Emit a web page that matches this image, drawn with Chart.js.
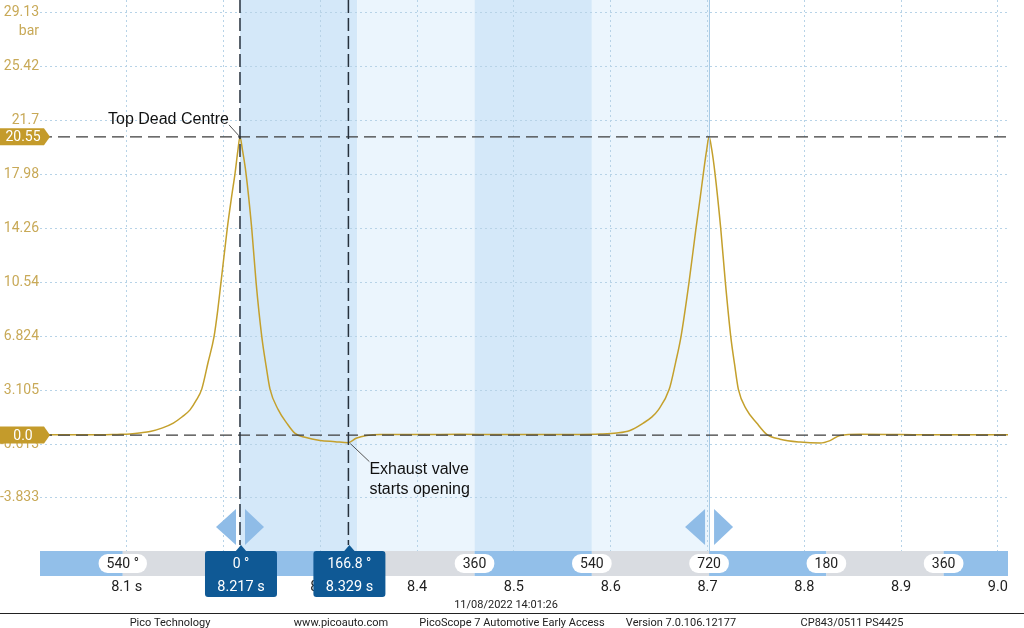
<!DOCTYPE html>
<html>
<head>
<meta charset="utf-8">
<script src="https://cdn.jsdelivr.net/npm/chart.js@4/dist/chart.umd.min.js"></script>
<style>
  html, body { margin: 0; padding: 0; background: #fff; }
  canvas { display: block; }
</style>
</head>
<body>
<canvas id="scope" width="1024" height="628"></canvas>
<script>
// cylinder pressure trace (time in s, pressure in bar)
const timeValues = [
  8.0104, 8.0400, 8.0724, 8.0900, 8.1034, 8.1150, 8.1241, 8.1370, 8.1481, 8.1570,
  8.1654, 8.1720, 8.1775, 8.1840, 8.1902, 8.1940, 8.1974, 8.2039, 8.2085, 8.2119,
  8.2148, 8.2170, 8.2194, 8.2232, 8.2291, 8.2336, 8.2395, 8.2440, 8.2480, 8.2566,
  8.2653, 8.2739, 8.2842, 8.2997, 8.3152, 8.3286, 8.3369, 8.3479, 8.3617, 8.4030,
  8.4443, 8.4856, 8.5270, 8.5683, 8.5890, 8.6062, 8.6199, 8.6337, 8.6420, 8.6492,
  8.6605, 8.6670, 8.6726, 8.6809, 8.6881, 8.6925, 8.6957, 8.6990, 8.7016, 8.7043,
  8.7077, 8.7136, 8.7184, 8.7240, 8.7280, 8.7318, 8.7405, 8.7508, 8.7612, 8.7749,
  8.7956, 8.8162, 8.8266, 8.8369, 8.8575, 8.8989, 8.9402, 8.9815, 9.0104
];
const pressureValues = [
  0.02, 0.03, 0.02, 0.05, 0.08, 0.16, 0.25, 0.50, 0.83, 1.25,
  1.74, 2.42, 3.17, 5.00, 6.79, 8.60, 10.54, 14.26, 16.50, 18.04,
  19.60, 20.55, 19.70, 18.04, 14.26, 10.54, 6.79, 4.75, 3.17, 1.74,
  0.83, 0.12, -0.15, -0.37, -0.45, -0.52, -0.22, -0.02, 0.05, 0.04,
  0.06, 0.04, 0.05, 0.05, 0.07, 0.14, 0.32, 0.83, 1.22, 1.74,
  3.17, 5.00, 6.79, 10.54, 14.26, 16.40, 18.04, 19.60, 20.55, 19.70,
  18.04, 14.26, 10.54, 6.79, 4.85, 3.17, 1.74, 0.83, 0.05, -0.28,
  -0.48, -0.55, -0.38, -0.02, 0.06, 0.04, 0.02, 0.03, 0.02
];

const xTickValues = [8.1, 8.2, 8.3, 8.4, 8.5, 8.6, 8.7, 8.8, 8.9, 9.0];
const xTickLabels = ['8.1 s', '8.2', '8.3', '8.4', '8.5', '8.6', '8.7', '8.8', '8.9', '9.0'];
const yTickValues = [29.13, 25.42, 21.7, 17.98, 14.26, 10.54, 6.824, 3.105, -0.613, -4.333];
const yTickLabels = ['29.13', '25.42', '21.7', '17.98', '14.26', '10.54', '6.824', '3.105', '-0.613', '-3.833'];

// crank angle ruler
const cycleTimes = [8.0959, 8.217, 8.3382, 8.4593, 8.5805, 8.7016, 8.8228, 8.9439];
const cycleLabels = ['540 °', '0', '180', '360', '540', '720', '180', '360'];

const cursorTimes = [8.217, 8.329];
const cursorAngles = ['0 °', '166.8 °'];
const cursorLabels = ['8.217 s', '8.329 s'];
const rulerValues = [20.55, 0.0];
const rulerLabels = ['20.55', '0.0'];

const footerTexts = ['Pico Technology', 'www.picoauto.com', 'PicoScope 7 Automotive Early Access', 'Version 7.0.106.12177', 'CP843/0511 PS4425'];
const footerCenters = [170, 341, 512, 681, 852];
const captureStamp = '11/08/2022 14:01:26';

const GOLD = '#c49b2b';
const FONT = 'Roboto, "Liberation Sans", sans-serif';

function triangle(ctx, pts) {
  ctx.beginPath();
  ctx.moveTo(pts[0][0], pts[0][1]);
  ctx.lineTo(pts[1][0], pts[1][1]);
  ctx.lineTo(pts[2][0], pts[2][1]);
  ctx.closePath();
  ctx.fill();
}

const scopeOverlay = {
  id: 'scopeOverlay',
  beforeDraw(chart) {
    const { ctx, chartArea: a, scales: { x } } = chart;
    ctx.save();
    ctx.fillStyle = '#fff';
    ctx.fillRect(0, 0, chart.width, chart.height);
    // 180 degree shading between the two TDCs
    for (let i = 1; i < 5; i++) {
      const x0 = x.getPixelForValue(cycleTimes[i]);
      const x1 = x.getPixelForValue(cycleTimes[i + 1]);
      ctx.fillStyle = i % 2 ? '#d4e8f9' : '#ebf5fd';
      ctx.fillRect(x0, a.top, x1 - x0, a.bottom - a.top);
    }
    ctx.restore();
  },
  afterDatasetsDraw(chart) {
    const { ctx, chartArea: a, scales: { x, y } } = chart;
    ctx.save();

    // TDC ruler line
    const xr = Math.round(x.getPixelForValue(cycleTimes[5])) + 0.5;
    ctx.strokeStyle = '#a9cbe6';
    ctx.lineWidth = 1;
    ctx.beginPath();
    ctx.moveTo(xr, a.top);
    ctx.lineTo(xr, a.bottom);
    ctx.stroke();

    // horizontal rulers
    ctx.strokeStyle = '#3c3c3c';
    ctx.lineWidth = 1.2;
    ctx.setLineDash([12, 6]);
    rulerValues.forEach(v => {
      const yy = y.getPixelForValue(v);
      ctx.beginPath();
      ctx.moveTo(a.left, yy);
      ctx.lineTo(a.right, yy);
      ctx.stroke();
    });

    // time cursors
    ctx.strokeStyle = '#26313d';
    ctx.lineWidth = 1.5;
    ctx.setLineDash([13, 5]);
    cursorTimes.forEach(t => {
      const xx = x.getPixelForValue(t);
      ctx.beginPath();
      ctx.moveTo(xx, a.top);
      ctx.lineTo(xx, a.bottom - 6);
      ctx.stroke();
    });
    ctx.setLineDash([]);

    // cursor handles
    ctx.fillStyle = '#8fbce7';
    [cycleTimes[1], cycleTimes[5]].forEach(t => {
      const xx = x.getPixelForValue(t);
      triangle(ctx, [[xx - 24, 527], [xx - 4, 509], [xx - 4, 545]]);
      triangle(ctx, [[xx + 5, 509], [xx + 5, 545], [xx + 24, 527]]);
    });

    // annotations
    const tdcX = x.getPixelForValue(cursorTimes[0]);
    const tdcY = y.getPixelForValue(rulerValues[0]);
    const evoX = x.getPixelForValue(cursorTimes[1]);
    const evoY = y.getPixelForValue(pressureValues[35]);
    ctx.strokeStyle = '#555';
    ctx.lineWidth = 1;
    ctx.beginPath();
    ctx.moveTo(tdcX - 11, tdcY - 12);
    ctx.lineTo(tdcX - 1, tdcY - 1);
    ctx.moveTo(evoX + 2, evoY + 1);
    ctx.lineTo(evoX + 21, evoY + 19);
    ctx.stroke();
    ctx.fillStyle = '#111';
    ctx.font = '16px "Liberation Sans", Arial, sans-serif';
    ctx.textBaseline = 'middle';
    ctx.textAlign = 'right';
    ctx.fillText('Top Dead Centre', tdcX - 11, tdcY - 17);
    ctx.textAlign = 'left';
    ctx.fillText('Exhaust valve', evoX + 21, evoY + 27);
    ctx.fillText('starts opening', evoX + 21, evoY + 47);
    ctx.restore();
  },
  afterDraw(chart) {
    const { ctx, chartArea: a, scales: { x, y } } = chart;
    ctx.save();
    const top = a.bottom, h = 25;

    // crank angle strip
    const edges = [a.left, ...cycleTimes.map(t => x.getPixelForValue(t)), a.right];
    for (let k = 0; k < edges.length - 1; k++) {
      ctx.fillStyle = k % 2 ? '#d9dce1' : '#92bfe9';
      ctx.fillRect(edges[k], top, edges[k + 1] - edges[k], h);
    }
    ctx.font = '14px ' + FONT;
    ctx.textAlign = 'center';
    ctx.textBaseline = 'middle';
    cycleLabels.forEach((lbl, i) => {
      const cx = x.getPixelForValue(cycleTimes[i]);
      const w = ctx.measureText(lbl).width + 16;
      ctx.fillStyle = '#fff';
      ctx.beginPath();
      ctx.roundRect(cx - w / 2, top + 3, w, 19, 9);
      ctx.fill();
      ctx.fillStyle = '#222';
      ctx.fillText(lbl, cx, top + 13);
    });

    // cursor read-outs
    cursorTimes.forEach((t, i) => {
      const cx = x.getPixelForValue(t) + 1;
      ctx.fillStyle = '#0f5995';
      triangle(ctx, [[cx - 6, top + 1], [cx, top - 6], [cx + 6, top + 1]]);
      ctx.beginPath();
      ctx.roundRect(cx - 36, top, 72, 46, 3);
      ctx.fill();
      ctx.fillStyle = '#fff';
      ctx.font = '14px ' + FONT;
      ctx.fillText(cursorAngles[i], cx, top + 13);
      ctx.font = '14.5px ' + FONT;
      ctx.fillText(cursorLabels[i], cx, top + 36);
    });

    // ruler badges on the left
    ctx.font = '14px ' + FONT;
    rulerValues.forEach((v, i) => {
      const yy = y.getPixelForValue(v);
      ctx.fillStyle = GOLD;
      ctx.beginPath();
      ctx.moveTo(0, yy - 8.5);
      ctx.lineTo(44, yy - 8.5);
      ctx.lineTo(50, yy);
      ctx.lineTo(44, yy + 8.5);
      ctx.lineTo(0, yy + 8.5);
      ctx.closePath();
      ctx.fill();
      ctx.fillStyle = '#fff';
      ctx.fillText(rulerLabels[i], 23, yy + 1);
    });

    // unit under the top tick
    ctx.fillStyle = '#c8a957';
    ctx.textAlign = 'right';
    ctx.fillText('bar', 39, y.getPixelForValue(yTickValues[0]) + 19);

    // footer
    ctx.fillStyle = '#222';
    ctx.textAlign = 'center';
    ctx.font = '11px ' + FONT;
    ctx.fillText(captureStamp, 506, 605);
    footerTexts.forEach((t, i) => ctx.fillText(t, footerCenters[i], 623));
    ctx.strokeStyle = '#222';
    ctx.lineWidth = 1;
    ctx.beginPath();
    ctx.moveTo(0, 613.5);
    ctx.lineTo(chart.width, 613.5);
    ctx.stroke();
    ctx.restore();
  }
};

const ctx = document.getElementById('scope').getContext('2d');
new Chart(ctx, {
  type: 'line',
  data: {
    datasets: [{
      label: 'Pressure',
      data: timeValues.map((t, i) => ({ x: t, y: pressureValues[i] })),
      borderColor: '#c4a02c',
      borderWidth: 1.5,
      pointRadius: 0,
      cubicInterpolationMode: 'monotone',
      fill: false
    }]
  },
  options: {
    responsive: false,
    animation: false,
    events: [],
    layout: { padding: { left: 0, right: 16, top: 0, bottom: 32 } },
    plugins: {
      legend: { display: false },
      tooltip: { enabled: false }
    },
    scales: {
      x: {
        type: 'linear',
        min: 8.0104,
        max: 9.0104,
        afterBuildTicks: s => { s.ticks = xTickValues.map(v => ({ value: v })); },
        afterFit: s => { s.height = 45; s.paddingLeft = 0; s.paddingRight = 0; },
        ticks: {
          padding: 28,
          maxRotation: 0,
          autoSkip: false,
          color: '#1e1e1e',
          font: { family: FONT, size: 14.5 },
          callback: (v, i) => xTickLabels[i]
        },
        grid: { color: '#b7d3e7', drawTicks: false, lineWidth: 1 },
        border: { display: false, dash: [2, 3] }
      },
      y: {
        min: -7.985,
        max: 29.98,
        afterBuildTicks: s => { s.ticks = yTickValues.map(v => ({ value: v })); },
        afterFit: s => { s.width = 40; s.paddingTop = 0; s.paddingBottom = 0; },
        ticks: {
          padding: 1,
          autoSkip: false,
          color: '#c8a957',
          font: { family: FONT, size: 14 },
          callback: (v, i) => yTickLabels[i]
        },
        grid: { color: '#b7d3e7', drawTicks: false, lineWidth: 1 },
        border: { display: false, dash: [2, 3] }
      }
    }
  },
  plugins: [scopeOverlay]
});
</script>
</body>
</html>
